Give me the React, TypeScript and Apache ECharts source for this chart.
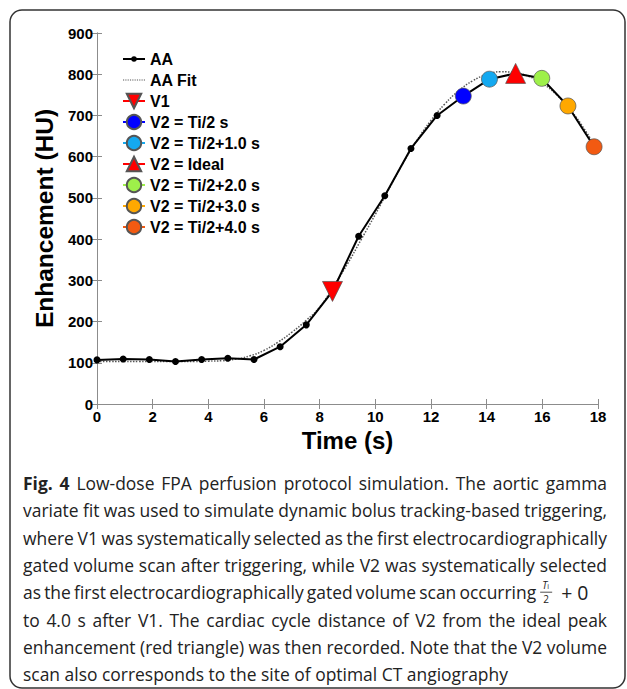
import React, { useEffect, useRef } from "react";
import * as echarts from "echarts";

const aaTimes = [0, 0.94, 1.88, 2.82, 3.76, 4.7, 5.64, 6.58, 7.52, 8.46, 9.4, 10.34, 11.28, 12.22, 13.16, 14.1, 15.04, 15.98, 16.92, 17.86];
const aaValues = [107, 109, 108, 103, 108, 111, 108, 139, 192, 273, 407, 505, 620, 700, 747, 788, 802, 790, 723, 624];

const fitTimes = [0, 0.5, 1, 1.5, 2, 2.5, 3, 3.5, 4, 4.5, 5, 5.5, 6, 6.5, 7, 7.5, 8, 8.5, 9, 9.5, 10, 10.5, 11, 11.5, 12, 12.5, 13, 13.5, 14, 14.5, 15, 15.5, 16, 16.5, 17, 17.5, 18];
const fitValues = [103, 103, 103, 103, 103, 103, 103, 103, 104, 105, 109, 117, 130, 150, 174, 202, 235, 286, 340, 400, 460, 523, 585, 640, 688, 728, 760, 784, 799, 806, 804, 795, 778, 751, 714, 668, 612];

const markerNames = ["V1", "V2 = Ti/2 s", "V2 = Ti/2+1.0 s", "V2 = Ideal", "V2 = Ti/2+2.0 s", "V2 = Ti/2+3.0 s", "V2 = Ti/2+4.0 s"];
const markerTimes = [8.46, 13.16, 14.1, 15.04, 15.98, 16.92, 17.86];
const markerValues = [273, 747, 788, 802, 790, 723, 624];
const markerColors = ["#ff0000", "#0000ff", "#14a9f0", "#ff0000", "#9ef04a", "#ffa800", "#f25a12"];
const markerSymbols = ["triangle", "circle", "circle", "triangle", "circle", "circle", "circle"];
const markerRotations = [180, 0, 0, 0, 0, 0, 0];

const xAxisTitle = "Time (s)";
const yAxisTitle = "Enhancement (HU)";

const captionBold = "Fig. 4";
const captionLines = [
  "Low-dose FPA perfusion protocol simulation. The aortic gamma",
  "variate fit was used to simulate dynamic bolus tracking-based triggering,",
  "where V1 was systematically selected as the first electrocardiographically",
  "gated volume scan after triggering, while V2 was systematically selected",
  "as the first electrocardiographically gated volume scan occurring",
  "to 4.0 s after V1. The cardiac cycle distance of V2 from the ideal peak",
  "enhancement (red triangle) was then recorded. Note that the V2 volume",
  "scan also corresponds to the site of optimal CT angiography",
];
const fractionNumerator = "T";
const fractionSub = "i";
const fractionDenominator = "2";
const fractionTail = "+ 0";

const AXIS_FONT = "Liberation Sans";
const CAP_FONT = "Open Sans";

const AA_ICON = "path://M0,2 L24,2 L24,4 L0,4 Z M9,3 A3,3 0 1,1 15,3 A3,3 0 1,1 9,3 Z";
const FIT_ICON =
  "path://M0,0 h1.2 v1.2 h-1.2 Z M2.4,0 h1.2 v1.2 h-1.2 Z M4.8,0 h1.2 v1.2 h-1.2 Z M7.2,0 h1.2 v1.2 h-1.2 Z M9.6,0 h1.2 v1.2 h-1.2 Z M12,0 h1.2 v1.2 h-1.2 Z M14.4,0 h1.2 v1.2 h-1.2 Z M16.8,0 h1.2 v1.2 h-1.2 Z M19.2,0 h1.2 v1.2 h-1.2 Z M21.6,0 h1.2 v1.2 h-1.2 Z";

export default function App() {
  const ref = useRef<HTMLDivElement>(null);
  useEffect(() => {
    document.body.style.margin = "0";
    const chart = echarts.init(ref.current!, null, { renderer: "svg" });

    const axisLineStyle = { color: "#8c8c8c", width: 1 };
    const labelStyle = { color: "#000", fontWeight: "bold" as const, fontSize: 15, fontFamily: AXIS_FONT };

    const markerSeries = markerNames.map((name, i) => ({
      name,
      type: "line",
      data: [[markerTimes[i], markerValues[i]]],
      symbol: markerSymbols[i],
      symbolRotate: markerRotations[i],
      symbolSize: markerSymbols[i] === "triangle" ? 20 : 16,
      itemStyle: { color: markerColors[i], borderColor: "#555", borderWidth: 0.7 },
      lineStyle: { color: markerColors[i], width: 1 },
      z: 5,
    }));

    // ---- caption layout (justified lines via measured word widths) ----
    const ctx = document.createElement("canvas").getContext("2d")!;
    const measure = (s: string, fs: number, bold: boolean) => {
      ctx.font = `${bold ? "bold " : ""}${fs}px "${CAP_FONT}"`;
      return ctx.measureText(s).width;
    };
    const capLeft = 23;
    const fullWidth = 584;
    const prefixWidth = 502;
    const lastIdx = captionLines.length - 1;
    const lineWords = captionLines.map((l, i) => {
      const ws = l.split(" ").map((t) => ({ t, b: false }));
      if (i === 0) return [...captionBold.split(" ").map((t) => ({ t, b: true })), ...ws];
      return ws;
    });
    let capFs = 17.5;
    lineWords.forEach((ws, i) => {
      if (i === 4 || i === lastIdx) return;
      const base = ws.reduce((a, w) => a + measure(w.t, 100, w.b), 0) + (ws.length - 1) * measure(" ", 100, false) * 0.8;
      capFs = Math.min(capFs, (fullWidth / base) * 100);
    });
    const spaceW = measure(" ", capFs, false);
    const capTop = 483;
    const capStep = 27.3;
    let prefixEnd = capLeft + prefixWidth;
    const captionGraphics: any[] = lineWords.map((ws, i) => {
      const wordsW = ws.reduce((a, w) => a + measure(w.t, capFs, w.b), 0);
      let gap = spaceW;
      if (i === 4) {
        gap = Math.max(spaceW * 0.7, (prefixWidth - wordsW) / (ws.length - 1));
        prefixEnd = capLeft + wordsW + gap * (ws.length - 1);
      } else if (i !== lastIdx) {
        gap = Math.max(2, (fullWidth - wordsW) / (ws.length - 1));
      }
      const text = ws.map((w) => `{${w.b ? "b" : "n"}|${w.t}}`).join("{g| }");
      return {
        type: "text",
        x: capLeft,
        y: capTop + i * capStep,
        style: {
          text,
          align: "left",
          verticalAlign: "middle",
          rich: {
            n: { fontSize: capFs, fontFamily: CAP_FONT, fill: "#222" },
            b: { fontSize: capFs, fontFamily: CAP_FONT, fontWeight: "bold", fill: "#222" },
            g: { fontSize: capFs, fontFamily: CAP_FONT, width: gap },
          },
        },
      };
    });

    const fy = capTop + 4 * capStep;
    const fx = prefixEnd + 10;
    captionGraphics.push(
      {
        type: "text",
        x: fx - 4,
        y: fy - 2,
        style: {
          text: `{t|${fractionNumerator}}{s|${fractionSub}}`,
          align: "left",
          verticalAlign: "bottom",
          rich: {
            t: { fontSize: 10, fontStyle: "italic", fontFamily: CAP_FONT, fill: "#222", verticalAlign: "bottom", lineHeight: 10 },
            s: { fontSize: 7, fontFamily: CAP_FONT, fill: "#222", verticalAlign: "bottom", lineHeight: 10 },
          },
        },
      },
      { type: "line", shape: { x1: fx - 6, y1: fy, x2: fx + 6, y2: fy }, style: { stroke: "#222", lineWidth: 0.8 } },
      { type: "text", x: fx, y: fy + 2, style: { text: fractionDenominator, fontSize: 10, lineHeight: 10, fontFamily: CAP_FONT, fill: "#222", align: "center", verticalAlign: "top" } },
      { type: "text", x: fx + 15, y: fy, style: { text: fractionTail, fontSize: capFs + 2, fontFamily: CAP_FONT, fill: "#222", align: "left", verticalAlign: "middle" } }
    );

    chart.setOption({
      animation: false,
      backgroundColor: "#fff",
      grid: { left: 97, right: 29, top: 33, bottom: 285 },
      legend: {
        orient: "vertical",
        left: 122,
        top: 50,
        padding: 0,
        itemGap: 3,
        itemWidth: 22,
        itemHeight: 18,
        textStyle: { fontSize: 16, fontWeight: "bold", color: "#000", fontFamily: AXIS_FONT, lineHeight: 18 },
        data: [
          { name: "AA", icon: AA_ICON },
          { name: "AA Fit", icon: FIT_ICON },
          ...markerNames,
        ],
      },
      xAxis: [
        {
          type: "value",
          min: 0,
          max: 18,
          interval: 2,
          position: "bottom",
          axisLine: { show: true, lineStyle: axisLineStyle },
          axisTick: { show: true, inside: true, length: 5, lineStyle: axisLineStyle },
          axisLabel: { ...labelStyle, margin: 5 },
          splitLine: { show: false },
          name: xAxisTitle,
          nameLocation: "middle",
          nameGap: 23,
          nameTextStyle: { fontSize: 24, fontWeight: "bold", color: "#000", fontFamily: AXIS_FONT },
        },
        {
          type: "value",
          min: 0,
          max: 18,
          interval: 2,
          position: "top",
          axisLine: { show: true, lineStyle: axisLineStyle },
          axisTick: { show: true, inside: true, length: 5, lineStyle: axisLineStyle },
          axisLabel: { show: false },
          splitLine: { show: false },
        },
      ],
      yAxis: [
        {
          type: "value",
          min: 0,
          max: 900,
          interval: 100,
          position: "left",
          axisLine: { show: true, lineStyle: axisLineStyle },
          axisTick: { show: true, inside: true, length: 5, lineStyle: axisLineStyle },
          axisLabel: { ...labelStyle, margin: 4 },
          splitLine: { show: false },
          name: yAxisTitle,
          nameLocation: "middle",
          nameGap: 39,
          nameTextStyle: { fontSize: 24.5, fontWeight: "bold", color: "#000", fontFamily: AXIS_FONT },
        },
        {
          type: "value",
          min: 0,
          max: 900,
          interval: 100,
          position: "right",
          axisLine: { show: true, lineStyle: axisLineStyle },
          axisTick: { show: true, inside: true, length: 5, lineStyle: axisLineStyle },
          axisLabel: { show: false },
          splitLine: { show: false },
        },
      ],
      series: [
        {
          name: "AA Fit",
          type: "line",
          data: fitTimes.map((t, i) => [t, fitValues[i]]),
          symbol: "none",
          smooth: true,
          itemStyle: { color: "#555" },
          lineStyle: { color: "#555", width: 1.5, type: "dotted" },
          z: 2,
        },
        {
          name: "AA",
          type: "line",
          data: aaTimes.map((t, i) => [t, aaValues[i]]),
          symbol: "circle",
          symbolSize: 7,
          itemStyle: { color: "#000" },
          lineStyle: { color: "#000", width: 2 },
          z: 3,
        },
        ...markerSeries,
      ],
      graphic: [
        {
          type: "rect",
          shape: { x: 10, y: 10, width: 615, height: 678, r: 12 },
          style: { fill: "none", stroke: "#333", lineWidth: 1.5 },
          z: 0,
        },
        ...captionGraphics,
      ],
    });
    return () => chart.dispose();
  }, []);
  return <div ref={ref} style={{ width: 627, height: 689, position: "absolute", left: 0, top: 0 }} />;
}
